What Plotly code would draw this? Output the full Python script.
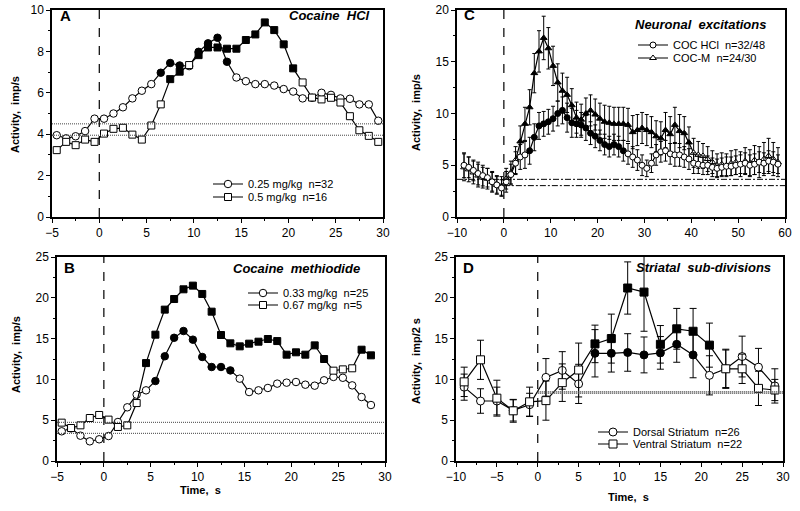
import plotly.graph_objects as go

FONT = "Liberation Sans, Arial, Helvetica, sans-serif"
NB = "\u00a0"

# ---------------- Panel A : Cocaine HCl ----------------
a_time = [-4.5, -3.5, -2.5, -1.5, -0.5, 0.5, 1.5, 2.5, 3.5, 4.5, 5.5, 6.5, 7.5, 8.5, 9.5,
          10.5, 11.5, 12.5, 13.5, 14.5, 15.5, 16.5, 17.5, 18.5, 19.5, 20.5, 21.5, 22.5,
          23.5, 24.5, 25.5, 26.5, 27.5, 28.5, 29.5]
a_low = [3.95, 3.8, 3.9, 4.15, 4.75, 4.75, 5.0, 5.3, 5.73, 6.1, 6.42, 6.97, 7.44, 7.32, 7.29,
         7.98, 8.39, 8.66, 7.5, 6.74, 6.56, 6.42, 6.42, 6.35, 6.18, 6.06, 5.73, 5.76,
         6.0, 5.9, 5.73, 5.71, 5.44, 5.44, 4.65]
a_low_sig = [0, 0, 0, 0, 0, 0, 0, 0, 0, 0, 0, 1, 1, 1, 0,
             1, 1, 1, 1, 0, 0, 0, 0, 0, 0, 0, 0, 0,
             0, 0, 0, 0, 0, 0, 0]
a_high = [3.23, 3.63, 3.47, 3.74, 3.63, 4.03, 4.26, 4.31, 3.98, 3.74, 4.42, 5.44, 6.66, 7.02, 7.34,
          7.82, 8.19, 8.19, 8.13, 8.13, 8.55, 8.82, 9.4, 9.03, 8.34, 7.18, 6.5, 5.77,
          5.68, 5.76, 5.53, 4.87, 4.19, 3.92, 3.63]
a_high_sig = [0, 0, 0, 0, 0, 0, 0, 0, 0, 0, 0, 0, 1, 1, 0,
              1, 1, 1, 1, 1, 1, 1, 1, 1, 1, 1, 0, 0,
              0, 0, 0, 0, 0, 0, 0]
a_baselines = [4.5, 3.95]
a_names = ["0.25 mg/kg" + NB * 2 + "n=32", "0.5 mg/kg" + NB * 2 + "n=16"]

# ---------------- Panel B : Cocaine methiodide ----------------
b_time = [-4.5, -3.5, -2.5, -1.5, -0.5, 0.5, 1.5, 2.5, 3.5, 4.5, 5.5, 6.5, 7.5, 8.5, 9.5,
          10.5, 11.5, 12.5, 13.5, 14.5, 15.5, 16.5, 17.5, 18.5, 19.5, 20.5, 21.5, 22.5,
          23.5, 24.5, 25.5, 26.5, 27.5, 28.5]
b_low = [3.64, 4.0, 3.1, 2.41, 2.66, 3.06, 4.78, 6.58, 8.13, 8.66, 9.8, 12.83, 15.1, 15.93, 14.87,
         12.75, 11.52, 11.52, 11.1, 10.09, 8.45, 8.66, 8.95, 9.48, 9.6, 9.68, 9.35, 9.23,
         9.89, 10.3, 10.2, 9.27, 7.84, 6.86]
b_low_sig = [0, 0, 0, 0, 0, 0, 0, 0, 0, 0, 1, 1, 1, 1, 1,
             1, 1, 1, 1, 0, 0, 0, 0, 0, 0, 0, 0, 0,
             0, 0, 0, 0, 0, 0]
b_high = [4.7, 4.04, 4.37, 5.27, 5.64, 5.07, 4.17, 4.37, 7.1, 12.0, 15.48, 18.55, 19.85, 21.04, 21.49,
          20.47, 18.3, 15.44, 14.42, 14.05, 14.38, 14.62, 14.95, 14.7, 13.03, 13.32, 13.03, 14.17,
          12.5, 11.07, 11.23, 11.36, 13.64, 12.95]
b_high_sig = [0, 0, 0, 0, 0, 0, 0, 0, 0, 1, 1, 1, 1, 1, 1,
              1, 1, 1, 1, 1, 1, 1, 1, 1, 1, 1, 1, 1,
              1, 0, 0, 0, 1, 1]
b_baselines = [4.74, 3.39]
b_names = ["0.33 mg/kg" + NB * 2 + "n=25", "0.67 mg/kg" + NB * 2 + "n=5"]

# ---------------- Panel C : Neuronal excitations ----------------
c_time = [-8.5, -7.5, -6.5, -5.5, -4.5, -3.5, -2.5, -1.5, -0.5, 0.5, 1.5, 2.5, 3.5, 4.5,
          5.5, 6.5, 7.5, 8.5, 9.5, 10.5, 11.5, 12.5, 13.5, 14.5, 15.5, 16.5, 17.5, 18.5,
          19.5, 20.5, 21.5, 22.5, 23.5, 24.5, 25.5, 26.5, 27.5, 28.5, 29.5, 30.5, 31.5,
          32.5, 33.5, 34.5, 35.5, 36.5, 37.5, 38.5, 39.5, 40.5, 41.5, 42.5, 43.5, 44.5,
          45.5, 46.5, 47.5, 48.5, 49.5, 50.5, 51.5, 52.5, 53.5, 54.5, 55.5, 56.5, 57.5, 58.5]
c_hcl = [5.0, 4.8, 4.5, 4.2, 4.0, 3.8, 3.4, 3.1, 2.8, 3.4, 4.1, 5.2, 5.8, 6.0,
         6.4, 7.7, 8.8, 9.0, 9.2, 9.5, 10.0, 10.3, 9.6, 9.1, 9.0, 8.9, 8.6, 8.1,
         7.8, 7.4, 7.0, 6.8, 7.0, 6.8, 6.4, 6.1, 5.8, 5.5, 5.0, 4.7, 5.2,
         6.0, 6.3, 6.4, 6.1, 6.0, 6.0, 5.8, 5.6, 5.2, 5.1, 5.0, 5.0, 4.8,
         4.7, 4.8, 4.9, 4.9, 5.0, 5.1, 5.2, 5.0, 5.1, 5.3, 5.2, 5.4, 5.3, 5.1]
c_hcl_err = [1.2, 1.0, 1.0, 1.1, 1.0, 0.9, 0.9, 0.8, 0.8, 1.0, 1.0, 1.1, 1.2, 1.3,
             1.3, 1.3, 1.3, 1.2, 1.2, 1.2, 1.2, 1.3, 1.4, 1.4, 1.3, 1.2, 1.2, 1.1,
             1.1, 1.0, 1.0, 1.0, 1.0, 1.0, 1.0, 1.0, 1.0, 1.0, 1.0, 0.8, 0.9,
             1.0, 1.0, 1.0, 1.0, 1.1, 1.1, 1.0, 1.0, 1.0, 0.9, 0.9, 0.9, 0.9,
             0.9, 0.9, 0.9, 0.9, 0.9, 0.9, 1.0, 1.0, 1.0, 1.0, 1.0, 1.0, 1.0, 0.9]
c_hcl_sig = [0, 0, 0, 0, 0, 0, 0, 0, 0, 0, 0, 0, 0, 0,
             1, 1, 1, 1, 1, 1, 1, 1, 1, 1, 1, 1, 1, 1,
             1, 1, 1, 1, 1, 1, 1, 0, 0, 0, 0, 0, 0,
             0, 0, 0, 0, 0, 0, 0, 0, 0, 0, 0, 0, 0,
             0, 0, 0, 0, 0, 0, 0, 0, 0, 0, 0, 0, 0, 0]
c_m = [4.8, 4.6, 4.3, 4.0, 3.8, 3.7, 3.4, 3.1, 3.0, 3.7, 4.3, 5.5, 7.3, 9.0,
       10.6, 13.9, 16.0, 17.3, 16.3, 14.6, 13.0, 12.2, 11.8, 10.8, 9.6, 9.4, 10.0, 10.3,
       9.9, 9.5, 9.2, 9.1, 9.0, 9.0, 9.0, 8.9, 8.2, 8.4, 8.6, 8.4, 8.2,
       7.8, 7.6, 8.4, 8.0, 8.9, 8.3, 8.1, 7.2, 6.2, 6.0, 5.9, 5.6, 5.3,
       5.0, 5.1, 5.0, 5.2, 5.3, 5.1, 5.4, 5.2, 5.5, 5.3, 5.6, 5.9, 5.6, 5.3]
c_m_err = [1.3, 1.2, 1.1, 1.1, 1.0, 1.0, 1.0, 0.9, 0.9, 1.0, 1.1, 1.3, 1.5, 1.6,
           1.7, 1.9, 2.0, 2.1, 2.0, 1.9, 1.8, 1.7, 1.7, 1.6, 1.5, 1.5, 1.5, 1.5,
           1.5, 1.5, 1.6, 1.6, 1.6, 1.6, 1.6, 1.6, 1.6, 1.5, 1.5, 1.5, 1.5,
           1.5, 1.6, 1.7, 1.7, 1.7, 1.6, 1.6, 1.5, 1.4, 1.3, 1.2, 1.2, 1.1,
           1.1, 1.1, 1.1, 1.2, 1.2, 1.2, 1.3, 1.3, 1.4, 1.5, 1.6, 1.7, 1.6, 1.4]
c_m_sig = [0, 0, 0, 0, 0, 0, 0, 0, 0, 0, 0, 0, 1, 1,
           1, 1, 1, 1, 1, 1, 1, 1, 1, 1, 1, 1, 1, 1,
           1, 1, 1, 1, 1, 1, 1, 1, 1, 1, 1, 1, 1,
           1, 1, 1, 1, 1, 1, 1, 1, 0, 0, 0, 0, 0,
           0, 0, 0, 0, 0, 0, 0, 0, 0, 0, 0, 0, 0, 0]
c_baselines = [3.64, 3.03]
c_names = ["COC HCl" + NB * 2 + "n=32/48", "COC-M" + NB * 2 + "n=24/30"]

# ---------------- Panel D : Striatal sub-divisions ----------------
d_time = [-9, -7, -5, -3, -1, 1, 3, 5, 7, 9, 11, 13, 15, 17, 19, 21, 23, 25, 27, 29]
d_dorsal = [9.05, 7.35, 7.35, 6.2, 6.9, 10.25, 11.1, 9.45, 13.2, 13.2, 13.3, 13.0, 13.25, 14.3,
            13.0, 10.5, 11.3, 12.8, 11.5, 9.2]
d_dorsal_err = [1.6, 1.5, 1.7, 1.3, 1.4, 2.3, 2.3, 2.4, 2.9, 2.3, 2.3, 2.2, 2.0, 2.2,
                2.8, 2.4, 2.3, 2.5, 2.3, 2.1]
d_dorsal_sig = [0, 0, 0, 0, 0, 0, 0, 0, 1, 1, 1, 1, 1, 1, 1, 0, 0, 0, 0, 0]
d_ventral = [9.7, 12.4, 7.7, 6.15, 7.25, 7.4, 9.6, 11.15, 14.35, 15.0, 21.2, 20.7, 14.3, 16.2,
             15.9, 14.2, 11.3, 11.3, 8.9, 8.7]
d_ventral_err = [1.8, 2.4, 2.2, 1.4, 1.8, 2.4, 2.3, 3.3, 2.3, 3.0, 3.2, 4.8, 2.3, 2.5,
                 2.8, 2.7, 2.4, 1.8, 2.1, 1.3]
d_ventral_sig = [0, 0, 0, 0, 0, 0, 0, 0, 1, 1, 1, 1, 1, 1, 1, 1, 0, 0, 0, 0]
d_baselines = [8.5, 8.3]
d_names = ["Dorsal Striatum" + NB * 2 + "n=26", "Ventral Striatum" + NB * 2 + "n=22"]

W, H = 800, 511


def px(x):
    return x / W


def py(y):
    return 1 - y / H


def fills(sig):
    return ["black" if s else "white" for s in sig]


fig = go.Figure()


def add_series(x, y, sig, name, symbol, size, xa, ya, legend, err=None, capw=3):
    kw = {}
    if err is not None:
        kw["error_y"] = dict(type="data", array=err, visible=True, color="black",
                             thickness=1, width=capw)
    fig.add_trace(go.Scatter(
        x=x, y=y, mode="lines+markers", name=name,
        line=dict(color="black", width=1.2),
        marker=dict(symbol=symbol, size=size, color=fills(sig),
                    line=dict(color="black", width=1)),
        xaxis=xa, yaxis=ya, legend=legend, showlegend=True, **kw))


# Panel A
add_series(a_time, a_low, a_low_sig, a_names[0], "circle", 7.5, "x", "y", "legend")
add_series(a_time, a_high, a_high_sig, a_names[1], "square", 7, "x", "y", "legend2")
# Panel B
add_series(b_time, b_low, b_low_sig, b_names[0], "circle", 7.5, "x2", "y2", "legend3")
add_series(b_time, b_high, b_high_sig, b_names[1], "square", 7, "x2", "y2", "legend4")
# Panel C
add_series(c_time, c_m, c_m_sig, c_names[1], "triangle-up", 6, "x3", "y3", "legend6",
           err=c_m_err, capw=2)
add_series(c_time, c_hcl, c_hcl_sig, c_names[0], "circle", 6, "x3", "y3", "legend5",
           err=c_hcl_err, capw=2)
# Panel D
add_series(d_time, d_dorsal, d_dorsal_sig, d_names[0], "circle", 8, "x4", "y4", "legend7",
           err=d_dorsal_err, capw=3.5)
add_series(d_time, d_ventral, d_ventral_sig, d_names[1], "square", 8, "x4", "y4", "legend8",
           err=d_ventral_err, capw=3.5)

# domains in pixel terms
dom = {
    "A": ([px(52), px(383)], [py(217), py(10)]),
    "B": ([px(57), px(385)], [py(461), py(257)]),
    "C": ([px(457), px(785)], [py(217), py(10)]),
    "D": ([px(456), px(783)], [py(461), py(257)]),
}

tickfont = dict(family=FONT, size=12, color="black")


def axis(domain, rng, dtick, mdtick, anchor):
    return dict(domain=domain, range=rng, dtick=dtick, tick0=0, anchor=anchor,
                automargin=False,
                showline=True, linecolor="black", linewidth=1.5, mirror=True,
                ticks="outside", ticklen=4, tickwidth=1, tickcolor="black",
                showgrid=False, zeroline=False, tickfont=tickfont,
                minor=dict(dtick=mdtick, tick0=0, ticks="outside", ticklen=2.5,
                           tickwidth=1, tickcolor="black", showgrid=False))


fig.update_layout(
    xaxis=axis(dom["A"][0], [-5, 30], 5, 2.5, "y"),
    yaxis=axis(dom["A"][1], [0, 10], 2, 1, "x"),
    xaxis2=axis(dom["B"][0], [-5, 30], 5, 2.5, "y2"),
    yaxis2=axis(dom["B"][1], [0, 25], 5, 2.5, "x2"),
    xaxis3=axis(dom["C"][0], [-10, 60], 10, 5, "y3"),
    yaxis3=axis(dom["C"][1], [0, 20], 5, 2.5, "x3"),
    xaxis4=axis(dom["D"][0], [-10, 30], 5, 2.5, "y4"),
    yaxis4=axis(dom["D"][1], [0, 25], 5, 2.5, "x4"),
)

# legends: one per series so that row spacing can match
leg_font = dict(family=FONT, size=11, color="black")
leg_pos = {
    "legend": (208, 184), "legend2": (208, 197),
    "legend3": (243, 293), "legend4": (243, 305),
    "legend5": (633, 45), "legend6": (633, 58),
    "legend7": (593, 432), "legend8": (593, 444),
}
for k, (lx, ly) in leg_pos.items():
    fig.update_layout({k: dict(x=px(lx), y=py(ly), xanchor="left", yanchor="middle",
                               bgcolor="rgba(0,0,0,0)", borderwidth=0, font=leg_font,
                               itemwidth=30, tracegroupgap=0)})

shapes = []
# vertical dashed lines at time 0
for xa, ya in [("x", "y"), ("x2", "y2"), ("x3", "y3"), ("x4", "y4")]:
    shapes.append(dict(type="line", xref=xa, yref=ya + " domain", x0=0, x1=0, y0=0, y1=1,
                       line=dict(color="black", width=1.2, dash="dash")))
# baselines
for v in a_baselines:
    shapes.append(dict(type="line", xref="x domain", yref="y", x0=0, x1=1, y0=v, y1=v,
                       line=dict(color="#444", width=1, dash="1px,1px")))
for v in b_baselines:
    shapes.append(dict(type="line", xref="x2 domain", yref="y2", x0=0, x1=1, y0=v, y1=v,
                       line=dict(color="#444", width=1, dash="1px,1px")))
shapes.append(dict(type="line", xref="x3", yref="y3", x0=-10, x1=60,
                   y0=c_baselines[0], y1=c_baselines[0],
                   line=dict(color="black", width=1, dash="6px,2px,2px,2px")))
shapes.append(dict(type="line", xref="x3", yref="y3", x0=0, x1=60,
                   y0=c_baselines[1], y1=c_baselines[1],
                   line=dict(color="black", width=1, dash="6px,2px,2px,2px")))
for v in d_baselines:
    shapes.append(dict(type="line", xref="x4", yref="y4", x0=0, x1=30, y0=v, y1=v,
                       line=dict(color="#555", width=1.5, dash="1px,1px")))
fig.update_layout(shapes=shapes)

ann = []


def text(x, y, s, size, xanchor="center", angle=0):
    ann.append(dict(xref="paper", yref="paper", x=px(x), y=py(y), text=s, showarrow=False,
                    xanchor=xanchor, yanchor="middle", textangle=angle,
                    font=dict(family=FONT, size=size, color="black")))


# panel letters
text(58, 15, "<b>A</b>", 15, "left")
text(462, 14, "<b>C</b>", 15, "left")
text(62, 267, "<b>B</b>", 15, "left")
text(461, 267, "<b>D</b>", 15, "left")
# panel titles
text(372, 15, "<b><i>Cocaine" + NB * 2 + "HCl</i></b>", 13, "right")
text(768, 25, "<b><i>Neuronal" + NB * 2 + "excitations</i></b>", 13, "right")
text(362, 268, "<b><i>Cocaine" + NB * 2 + "methiodide</i></b>", 13, "right")
text(773, 267, "<b><i>Striatal" + NB * 2 + "sub-divisions</i></b>", 13, "right")
# axis titles
text(15, 115, "<b>Activity," + NB * 2 + "imp/s</b>", 11, angle=-90)
text(16, 355, "<b>Activity," + NB * 2 + "imp/s</b>", 11, angle=-90)
text(416, 113, "<b>Activity," + NB * 2 + "imp/s</b>", 11, angle=-90)
text(416, 361, "<b>Activity," + NB * 2 + "imp/2 s</b>", 11, angle=-90)
text(200, 490, "<b>Time," + NB * 2 + "s</b>", 11)
text(628, 497, "<b>Time," + NB * 2 + "s</b>", 11)
fig.update_layout(annotations=ann)

fig.update_layout(width=W, height=H, margin=dict(l=0, r=0, t=0, b=0, autoexpand=False),
                  paper_bgcolor="white", plot_bgcolor="white",
                  font=dict(family=FONT, color="black"))

fig.write_html("out.html", config={"displayModeBar": False},
               post_script="document.body.style.margin='0px';"
                           "document.body.style.padding='0px';")
